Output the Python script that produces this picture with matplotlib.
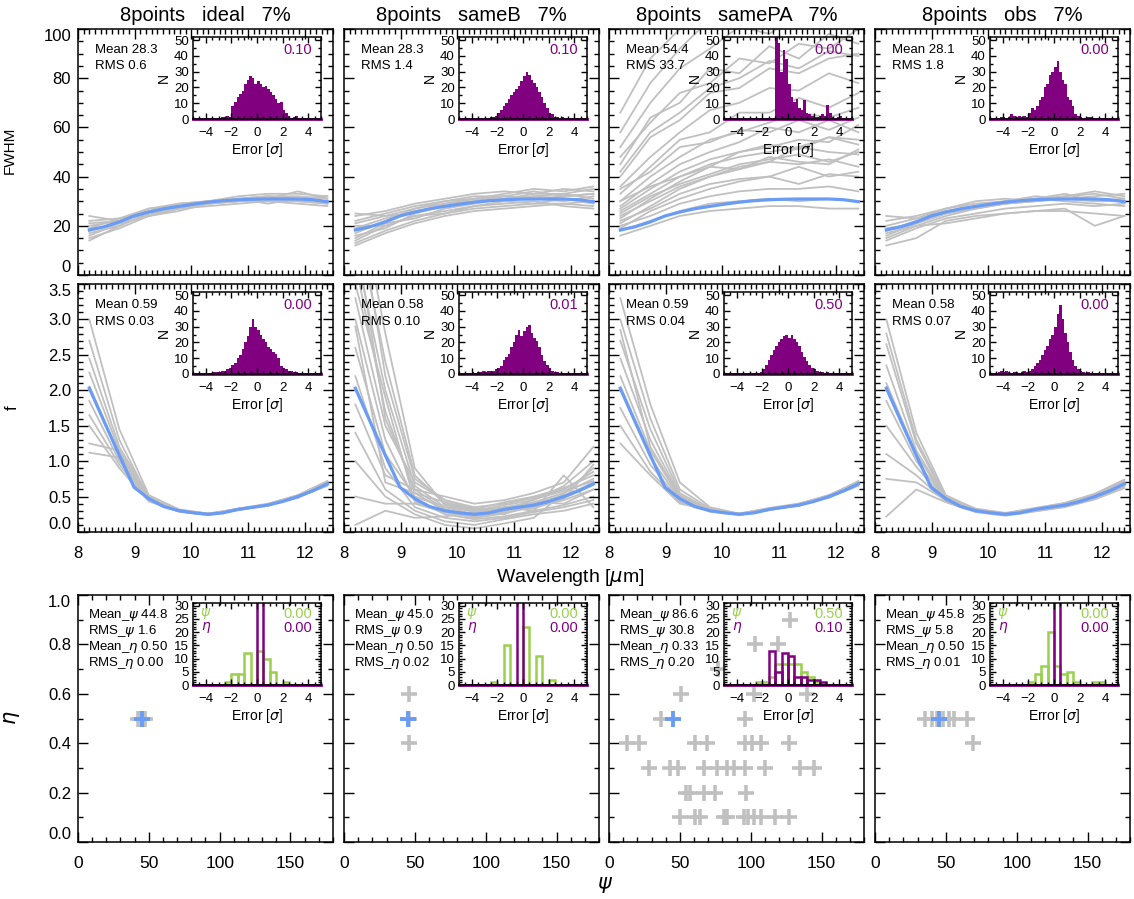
import numpy as np
import matplotlib.pyplot as plt
from matplotlib.ticker import MultipleLocator

plt.rcParams['font.family'] = ['Liberation Sans', 'DejaVu Sans']
plt.rcParams['mathtext.fontset'] = 'dejavusans'

GREY = '#c0c0c0'
BLUE = '#6a9cf5'
PURPLE = '#800080'
GREEN = '#9bd04f'

# ---------------- data ----------------
titles = ['8points   ideal   7%', '8points   sameB   7%',
          '8points   samePA   7%', '8points   obs   7%']

# model (blue) curves
wave_model = [8.20, 8.46, 8.73, 8.99, 9.25, 9.51, 9.78, 10.04, 10.30,
              10.56, 10.83, 11.09, 11.35, 11.61, 11.88, 12.14, 12.40]
fwhm_model = [18.3, 19.6, 21.6, 24.0, 25.6, 26.9, 27.9, 28.8, 29.6,
              30.2, 30.6, 30.8, 30.9, 30.9, 30.9, 30.6, 29.8]
f_model = [2.03, 1.56, 1.08, 0.63, 0.47, 0.36, 0.30, 0.27, 0.25,
           0.27, 0.32, 0.35, 0.38, 0.43, 0.50, 0.58, 0.68]

# simulated fits (grey)
wave_runs = [8.2, 8.73, 9.25, 9.78, 10.3, 10.83, 11.35, 11.88, 12.4]

fwhm_ideal = [
    [16, 21, 24, 27, 29, 30, 31, 31, 30],
    [20, 22, 26, 28, 30, 31, 32, 32, 31],
    [14, 20, 25, 27, 29, 30, 30, 30, 29],
    [22, 23, 27, 29, 30, 32, 33, 33, 32],
    [18, 21, 24, 27, 28, 29, 30, 29, 28],
    [24, 22, 27, 28, 30, 31, 31, 34, 31],
    [15, 19, 24, 26, 29, 30, 31, 30, 30],
    [19, 23, 26, 29, 30, 30, 32, 31, 32],
    [17, 20, 25, 27, 30, 31, 29, 31, 30],
    [21, 22, 25, 28, 29, 31, 32, 30, 29],
]
fwhm_sameB = [
    [13, 18, 22, 25, 27, 28, 29, 29, 30],
    [24, 26, 29, 31, 33, 34, 33, 35, 34],
    [17, 22, 27, 29, 31, 32, 31, 32, 33],
    [20, 20, 24, 26, 28, 29, 30, 28, 27],
    [15, 21, 23, 27, 29, 31, 32, 33, 31],
    [22, 25, 28, 30, 31, 33, 35, 34, 36],
    [12, 17, 21, 24, 26, 27, 28, 29, 28],
    [19, 23, 26, 28, 31, 30, 32, 31, 30],
    [16, 19, 25, 29, 30, 32, 31, 30, 32],
    [25, 24, 27, 30, 32, 32, 34, 32, 33],
    [14, 20, 24, 25, 28, 30, 29, 31, 29],
    [21, 24, 25, 28, 30, 31, 33, 33, 35],
]
fwhm_samePA = [
    [16, 20, 24, 26, 27, 28, 28, 27, 27],
    [18, 22, 26, 29, 30, 31, 30, 31, 30],
    [20, 24, 29, 32, 34, 35, 35, 36, 34],
    [22, 27, 33, 37, 39, 40, 44, 40, 42],
    [19, 26, 31, 35, 38, 40, 37, 41, 40],
    [24, 30, 36, 40, 43, 48, 46, 45, 51],
    [21, 28, 35, 40, 44, 46, 52, 50, 49],
    [26, 33, 40, 45, 48, 50, 52, 56, 53],
    [23, 31, 38, 44, 50, 52, 55, 54, 61],
    [28, 37, 45, 50, 54, 60, 58, 63, 58],
    [30, 40, 48, 55, 58, 62, 66, 64, 68],
    [33, 44, 55, 58, 66, 66, 72, 68, 74],
    [36, 48, 58, 67, 70, 76, 75, 82, 78],
    [40, 56, 63, 74, 76, 84, 82, 88, 90],
    [45, 64, 70, 84, 82, 93, 88, 98, 94],
    [52, 70, 84, 92, 101, 98, 106, 104, 110],
    [58, 78, 92, 104, 108, 114, 112, 118, 120],
    [66, 88, 100, 110, 118, 122, 125, 128, 130],
    [27, 35, 42, 47, 50, 53, 51, 56, 55],
    [25, 32, 37, 41, 45, 47, 49, 46, 50],
    [35, 42, 52, 54, 59, 58, 63, 59, 64],
    [42, 58, 66, 76, 80, 87, 84, 91, 89],
    [30, 36, 40, 44, 43, 46, 45, 47, 44],
    [48, 62, 74, 78, 88, 86, 94, 92, 100],
]
fwhm_obs = [
    [12, 15, 22, 24, 25, 26, 27, 20, 24],
    [16, 21, 25, 28, 29, 30, 31, 30, 30],
    [20, 23, 26, 28, 30, 31, 32, 33, 31],
    [22, 24, 27, 29, 30, 32, 31, 32, 33],
    [14, 19, 23, 25, 27, 28, 29, 28, 29],
    [18, 22, 26, 28, 30, 31, 33, 30, 31],
    [24, 23, 27, 30, 31, 30, 32, 34, 32],
    [15, 20, 24, 27, 29, 31, 30, 29, 28],
    [19, 21, 25, 27, 29, 30, 31, 31, 30],
    [17, 20, 21, 23, 25, 26, 26, 25, 24],
]

f_ideal = [
    [3.00, 1.45, 0.52, 0.32, 0.26, 0.33, 0.40, 0.52, 0.72],
    [2.70, 1.30, 0.48, 0.31, 0.25, 0.31, 0.38, 0.49, 0.66],
    [2.45, 1.20, 0.50, 0.29, 0.24, 0.32, 0.39, 0.51, 0.70],
    [2.25, 1.15, 0.45, 0.30, 0.25, 0.33, 0.37, 0.50, 0.65],
    [2.05, 1.10, 0.47, 0.31, 0.26, 0.32, 0.38, 0.48, 0.68],
    [1.85, 1.00, 0.46, 0.29, 0.24, 0.31, 0.39, 0.51, 0.69],
    [1.65, 0.95, 0.44, 0.30, 0.25, 0.32, 0.38, 0.50, 0.67],
    [1.25, 1.15, 0.46, 0.31, 0.25, 0.33, 0.38, 0.49, 0.70],
    [1.12, 1.05, 0.45, 0.30, 0.26, 0.31, 0.37, 0.50, 0.66],
    [1.50, 0.90, 0.43, 0.29, 0.25, 0.32, 0.39, 0.52, 0.71],
]
f_sameB = [
    [4.5, 2.4, 0.80, 0.40, 0.30, 0.35, 0.42, 0.55, 0.75],
    [4.0, 2.0, 0.65, 0.35, 0.25, 0.30, 0.40, 0.50, 0.70],
    [3.8, 1.7, 0.55, 0.30, 0.22, 0.28, 0.35, 0.45, 0.60],
    [3.3, 1.5, 0.70, 0.45, 0.35, 0.40, 0.48, 0.60, 0.85],
    [3.0, 1.3, 0.45, 0.25, 0.18, 0.22, 0.30, 0.38, 0.50],
    [2.6, 1.1, 0.50, 0.35, 0.30, 0.38, 0.45, 0.65, 1.00],
    [2.2, 0.9, 0.35, 0.20, 0.15, 0.20, 0.28, 0.35, 0.45],
    [1.8, 0.8, 0.60, 0.50, 0.40, 0.45, 0.55, 0.70, 1.20],
    [1.4, 0.6, 0.30, 0.15, 0.10, 0.18, 0.25, 0.30, 0.40],
    [1.0, 0.5, 0.25, 0.10, 0.05, 0.12, 0.20, 0.55, 0.90],
    [0.5, 0.4, 0.40, 0.28, 0.22, 0.35, 0.30, 0.80, 0.35],
    [0.1, 0.3, 0.20, 0.22, 0.28, 0.25, 0.42, 0.40, 0.60],
    [5.0, 2.8, 0.90, 0.38, 0.28, 0.33, 0.40, 0.52, 0.68],
    [3.5, 1.9, 0.42, 0.28, 0.20, 0.26, 0.36, 0.46, 0.95],
    [2.9, 0.7, 0.55, 0.42, 0.32, 0.42, 0.50, 0.62, 0.80],
    [4.8, 2.2, 0.75, 0.45, 0.33, 0.30, 0.46, 0.58, 0.72],
    [4.2, 1.6, 0.60, 0.32, 0.24, 0.34, 0.33, 0.48, 0.66],
]
f_samePA = [
    [3.30, 1.80, 0.70, 0.35, 0.26, 0.33, 0.40, 0.52, 0.70],
    [3.00, 1.60, 0.60, 0.33, 0.25, 0.32, 0.39, 0.50, 0.68],
    [2.70, 1.45, 0.55, 0.31, 0.24, 0.31, 0.38, 0.51, 0.72],
    [2.45, 1.30, 0.52, 0.30, 0.25, 0.33, 0.37, 0.49, 0.66],
    [2.20, 1.15, 0.48, 0.29, 0.25, 0.32, 0.39, 0.50, 0.69],
    [2.00, 1.05, 0.46, 0.30, 0.24, 0.31, 0.38, 0.48, 0.67],
    [1.75, 0.95, 0.44, 0.29, 0.25, 0.32, 0.37, 0.51, 0.70],
    [1.50, 0.85, 0.42, 0.30, 0.26, 0.33, 0.39, 0.52, 0.71],
    [1.25, 0.80, 0.40, 0.31, 0.25, 0.31, 0.38, 0.49, 0.65],
    [2.85, 1.20, 0.50, 0.32, 0.26, 0.34, 0.40, 0.51, 0.70],
]
f_obs = [
    [3.00, 1.40, 0.52, 0.32, 0.26, 0.33, 0.41, 0.53, 0.72],
    [2.65, 1.25, 0.48, 0.31, 0.25, 0.31, 0.38, 0.50, 0.68],
    [2.35, 1.15, 0.47, 0.30, 0.24, 0.32, 0.37, 0.49, 0.66],
    [2.10, 1.10, 0.45, 0.29, 0.25, 0.30, 0.36, 0.48, 0.65],
    [1.85, 1.00, 0.46, 0.30, 0.26, 0.33, 0.39, 0.52, 0.70],
    [1.50, 0.92, 0.44, 0.31, 0.24, 0.31, 0.38, 0.51, 0.71],
    [1.10, 0.80, 0.43, 0.29, 0.25, 0.32, 0.40, 0.50, 0.69],
    [0.75, 0.70, 0.45, 0.30, 0.24, 0.30, 0.36, 0.47, 0.64],
    [0.22, 0.60, 0.42, 0.28, 0.23, 0.29, 0.35, 0.46, 0.62],
    [2.80, 1.30, 0.50, 0.33, 0.27, 0.34, 0.41, 0.54, 0.74],
]

# stats text
fwhm_mean = ['28.3', '28.3', '54.4', '28.1']
fwhm_rms = ['0.6', '1.4', '33.7', '1.8']
fwhm_frac = ['0.10', '0.10', '0.00', '0.00']
f_mean = ['0.59', '0.58', '0.59', '0.58']
f_rms = ['0.03', '0.10', '0.04', '0.07']
f_frac = ['0.00', '0.01', '0.50', '0.00']
psi_mean = ['44.8', '45.0', '86.6', '45.8']
psi_rms = ['1.6', '0.9', '30.8', '5.8']
eta_mean = ['0.50', '0.50', '0.33', '0.50']
eta_rms = ['0.00', '0.02', '0.20', '0.01']
psi_frac = ['0.00', '0.00', '0.50', '0.00']
eta_frac = ['0.00', '0.00', '0.10', '0.00']

# error histograms: 50 bins of 0.2 sigma from -5 to 5
hist_fwhm = [
    [0]*10 + [0, 1, 1, 2, 1, 8, 11, 14, 16, 18, 22, 25, 27, 26, 22, 24, 22, 20, 21,
              19, 17, 15, 13, 10, 11, 6, 4, 2, 0, 1, 2] + [0]*9,
    [0]*12 + [1, 1, 2, 4, 6, 8, 10, 13, 15, 17, 19, 21, 24, 27, 30, 28, 25, 23, 20,
              17, 14, 10, 7, 4, 3, 1, 1, 0, 1] + [0]*9,
    [0]*20 + [52, 48, 30, 44, 38, 22, 14, 11, 13, 7, 6, 12, 4, 3, 2, 1, 1, 2, 3, 2,
              9, 4, 1, 0, 1, 2] + [0]*4,
    [0]*4 + [1, 1, 0, 1, 3, 2, 1, 2, 1, 2, 1, 4, 7, 6, 8, 12, 14, 20, 22, 28, 30,
             33, 37, 30, 25, 22, 14, 12, 8, 3, 2, 1, 0, 0, 1, 1] + [0]*10,
]
hist_f = [
    [0]*8 + [1, 1, 1, 2, 2, 3, 4, 6, 7, 10, 12, 16, 20, 24, 30, 35, 30, 28, 25, 22,
             20, 17, 16, 14, 13, 10, 5, 4, 3, 2, 2, 1, 1] + [0]*9,
    [0]*5 + [1, 0, 1, 1, 2, 1, 2, 2, 2, 3, 4, 5, 9, 11, 13, 17, 20, 25, 28, 24, 27,
             30, 31, 26, 23, 21, 17, 12, 8, 6, 4, 2, 1, 1] + [0]*11,
    [0]*14 + [1, 3, 6, 9, 12, 15, 18, 20, 22, 24, 25, 23, 25, 22, 20, 18, 14, 11, 8,
              6, 4, 3, 2, 1, 1, 0, 1] + [0]*9,
    [0]*3 + [1, 2, 1, 2, 1, 0, 1, 1, 0, 1, 2, 1, 2, 3, 5, 7, 9, 12, 15, 18, 22, 25,
             30, 38, 44, 35, 26, 20, 14, 9, 5, 3, 2, 1, 0, 1] + [0]*11,
]

# psi / eta histograms: 20 bins of 0.5 sigma from -5 to 5
hist_psi = [
    [0]*5 + [1, 4, 4, 12, 0, 13, 10, 5, 0, 1] + [0]*5,
    [0]*5 + [1, 0, 15, 0, 0, 22, 0, 11, 0, 2] + [0]*5,
    [0]*5 + [1, 1, 3, 8, 8, 8, 8, 5, 3, 1] + [0]*5,
    [0]*6 + [1, 4, 7, 20, 7, 4, 5, 1, 0, 0, 1, 1] + [0]*2,
]
hist_eta = [
    [0]*10 + [50] + [0]*9,
    [0]*9 + [50] + [0]*10,
    [0]*7 + [13, 5, 12, 11, 3, 3, 2, 2, 1] + [0]*4,
    [0]*10 + [50] + [0]*9,
]

# psi / eta of the individual fits (grey crosses)
psi_pts = [
    [42, 44, 45, 46, 47],
    [45.6, 45.6, 45.6],
    [51, 37, 96, 102, 103, 119, 128, 77, 140,
     13, 21, 61, 69, 96, 101, 107, 127,
     28, 43, 49, 67, 76, 83, 88, 96, 110, 135, 145,
     54, 57, 67, 75, 97,
     50, 61, 64, 81, 83, 95, 98, 102, 107, 117, 127],
    [35, 40, 44, 48, 52, 56, 65, 69],
]
eta_pts = [
    [0.5, 0.5, 0.5, 0.5, 0.5],
    [0.6, 0.5, 0.4],
    [0.6, 0.5, 0.5, 0.6, 0.8, 0.8, 0.9, 0.7, 0.6,
     0.4, 0.4, 0.4, 0.4, 0.4, 0.4, 0.4, 0.4,
     0.3, 0.3, 0.3, 0.3, 0.3, 0.3, 0.3, 0.3, 0.3, 0.3, 0.3,
     0.2, 0.2, 0.2, 0.2, 0.2,
     0.1, 0.1, 0.1, 0.1, 0.1, 0.1, 0.1, 0.1, 0.1, 0.1, 0.1],
    [0.5, 0.5, 0.5, 0.5, 0.5, 0.5, 0.5, 0.4],
]
psi_true = 45
eta_true = 0.5

runs_fwhm = [fwhm_ideal, fwhm_sameB, fwhm_samePA, fwhm_obs]
runs_f = [f_ideal, f_sameB, f_samePA, f_obs]

# ---------------- layout ----------------
W, H = 1134, 899
fig = plt.figure(figsize=(W / 100, H / 100), dpi=100)

col_left = [78, 344, 609, 875]
col_w = 255
row_top = [29, 284, 595]
row_h = [246, 248, 247]


def rect(left, top, w, h):
    return [left / W, 1 - (top + h) / H, w / W, h / H]


def style(ax, fs=12, major=7, minor=3.5, pad=5):
    ax.tick_params(which='both', direction='in', top=True, right=True,
                   labelsize=fs, width=1, colors='black')
    ax.tick_params(which='major', length=major)
    ax.tick_params(which='minor', length=minor)
    ax.tick_params(axis='y', pad=pad)
    for s in ax.spines.values():
        s.set_linewidth(1.1)


def tuck_edge_labels(ax):
    # IDL keeps the end labels inside the frame
    labs = ax.get_yticklabels()
    if labs:
        labs[0].set_va('bottom')
        labs[-1].set_va('top')


def make_inset(col, row, ymax, ystep, yminor):
    ax = fig.add_axes(rect(col_left[col] + 115, row_top[row] + 8, 128, 82))
    ax.set_facecolor('none')
    ax.set_xlim(-5, 5)
    ax.set_ylim(0, ymax)
    ax.xaxis.set_major_locator(MultipleLocator(2))
    ax.xaxis.set_minor_locator(MultipleLocator(0.5))
    ax.yaxis.set_major_locator(MultipleLocator(ystep))
    ax.yaxis.set_minor_locator(MultipleLocator(yminor))
    style(ax, fs=9.5, major=4, minor=2, pad=3)
    ax.tick_params(axis='x', pad=6)
    ax.set_xticks([-4, -2, 0, 2, 4])
    ax.set_xticklabels(['\u22124', '\u22122', '0', '2', '4'])
    ax.set_xlabel('Error [$\\sigma$]', fontsize=10, labelpad=1)
    return ax


edges_fine = np.arange(-5, 5.001, 0.2)
edges_coarse = np.arange(-5, 5.001, 0.5)

for c in range(4):
    # title
    fig.text((col_left[c] + col_w / 2) / W, 1 - 21 / H, titles[c],
             ha='center', va='baseline', fontsize=14.5)

    # ---- row 1: FWHM ----
    ax = fig.add_axes(rect(col_left[c], row_top[0], col_w, row_h[0]))
    for run in runs_fwhm[c]:
        ax.plot(wave_runs, run, color=GREY, lw=1.3, zorder=1)
    ax.plot(wave_model, fwhm_model, color=BLUE, lw=2.3, zorder=3)
    ax.set_xlim(8, 12.5)
    ax.set_ylim(0, 100)
    ax.xaxis.set_major_locator(MultipleLocator(1))
    ax.xaxis.set_minor_locator(MultipleLocator(0.1))
    ax.set_yticks([0, 20, 40, 60, 80, 100])
    ax.yaxis.set_minor_locator(MultipleLocator(5))
    style(ax)
    ax.set_xticklabels([])
    if c > 0:
        ax.set_yticklabels([])
    else:
        tuck_edge_labels(ax)
    ax.text(17 / col_w, 1 - 21 / row_h[0], 'Mean ' + fwhm_mean[c],
            transform=ax.transAxes, fontsize=9.5, va='center', zorder=5)
    ax.text(17 / col_w, 1 - 37 / row_h[0], 'RMS ' + fwhm_rms[c],
            transform=ax.transAxes, fontsize=9.5, va='center', zorder=5)

    ia = make_inset(c, 0, 52, 10, 5)
    ia.stairs(hist_fwhm[c], edges_fine, fill=True, color=PURPLE)
    ia.plot([-5, 5], [0, 0], color=PURPLE, lw=2, clip_on=False)
    ia.set_ylabel('N', fontsize=10, labelpad=2)
    ia.text(0.93, 0.84, fwhm_frac[c], transform=ia.transAxes, color=PURPLE,
            fontsize=10.5, ha='right', va='center')

    # ---- row 2: f ----
    ax = fig.add_axes(rect(col_left[c], row_top[1], col_w, row_h[1]))
    for run in runs_f[c]:
        ax.plot(wave_runs, run, color=GREY, lw=1.3, zorder=1)
    ax.plot(wave_model, f_model, color=BLUE, lw=2.3, zorder=3)
    ax.set_xlim(8, 12.5)
    ax.set_ylim(0, 3.5)
    ax.xaxis.set_major_locator(MultipleLocator(1))
    ax.xaxis.set_minor_locator(MultipleLocator(0.1))
    ax.set_yticks([0, 0.5, 1.0, 1.5, 2.0, 2.5, 3.0, 3.5])
    ax.yaxis.set_minor_locator(MultipleLocator(0.1))
    style(ax)
    ax.tick_params(axis='x', pad=10)
    if c > 0:
        ax.set_yticklabels([])
    else:
        ax.set_yticklabels(['0.0', '0.5', '1.0', '1.5', '2.0', '2.5', '3.0',
                            '3.5'])
        tuck_edge_labels(ax)
    ax.text(17 / col_w, 1 - 21 / row_h[1], 'Mean ' + f_mean[c],
            transform=ax.transAxes, fontsize=9.5, va='center', zorder=5)
    ax.text(17 / col_w, 1 - 38 / row_h[1], 'RMS ' + f_rms[c],
            transform=ax.transAxes, fontsize=9.5, va='center', zorder=5)

    ia = make_inset(c, 1, 52, 10, 5)
    ia.stairs(hist_f[c], edges_fine, fill=True, color=PURPLE)
    ia.plot([-5, 5], [0, 0], color=PURPLE, lw=2, clip_on=False)
    ia.set_ylabel('N', fontsize=10, labelpad=2)
    ia.text(0.93, 0.84, f_frac[c], transform=ia.transAxes, color=PURPLE,
            fontsize=10.5, ha='right', va='center')

    # ---- row 3: psi / eta ----
    ax = fig.add_axes(rect(col_left[c], row_top[2], col_w, row_h[2]))
    ax.plot(psi_pts[c], eta_pts[c], ls='none', marker='+', ms=11, mew=2.6,
            color=GREY, zorder=2)
    ax.plot([psi_true], [eta_true], ls='none', marker='+', ms=11, mew=2.8,
            color=BLUE, zorder=3)
    ax.set_xlim(0, 180)
    ax.set_ylim(0, 1)
    ax.set_xticks([0, 50, 100, 150])
    ax.xaxis.set_minor_locator(MultipleLocator(10))
    ax.set_yticks([0, 0.2, 0.4, 0.6, 0.8, 1.0])
    ax.yaxis.set_minor_locator(MultipleLocator(0.1))
    style(ax)
    ax.tick_params(axis='x', pad=10, labelsize=12.5)
    if c > 0:
        ax.set_yticklabels([])
    else:
        ax.set_yticklabels(['0.0', '0.2', '0.4', '0.6', '0.8', '1.0'])
        tuck_edge_labels(ax)
    lines = ['Mean_$\\psi$ ' + psi_mean[c], 'RMS_$\\psi$ ' + psi_rms[c],
             'Mean_$\\eta$ ' + eta_mean[c], 'RMS_$\\eta$ ' + eta_rms[c]]
    for k, s in enumerate(lines):
        ax.text(10 / col_w, 1 - (20 + 16 * k) / row_h[2], s,
                transform=ax.transAxes, fontsize=9.5, va='center', zorder=5)

    ia = make_inset(c, 2, 31, 5, 1)
    ia.bar(edges_coarse[:-1], hist_psi[c], width=0.5, align='edge',
           fill=False, edgecolor=GREEN, lw=1.8)
    ia.bar(edges_coarse[:-1], hist_eta[c], width=0.5, align='edge',
           fill=False, edgecolor=PURPLE, lw=1.8)
    ia.plot([-5, 5], [0, 0], color=PURPLE, lw=2, clip_on=False)
    ia.text(0.1, 0.87, '$\\psi$', transform=ia.transAxes, color=GREEN,
            fontsize=10, ha='center', va='center')
    ia.text(0.1, 0.70, '$\\eta$', transform=ia.transAxes, color=PURPLE,
            fontsize=10, ha='center', va='center')
    ia.text(0.93, 0.87, psi_frac[c], transform=ia.transAxes, color=GREEN,
            fontsize=10.5, ha='right', va='center')
    ia.text(0.93, 0.70, eta_frac[c], transform=ia.transAxes, color=PURPLE,
            fontsize=10.5, ha='right', va='center')

# axis titles
fig.text(10 / W, 1 - 150 / H, 'FWHM', rotation=90, ha='center', va='center',
         fontsize=11)
fig.text(12 / W, 1 - 408 / H, 'f', rotation=90, ha='center', va='center',
         fontsize=12)
fig.text(12 / W, 1 - 718 / H, '$\\eta$', rotation=90, ha='center',
         va='center', fontsize=15)
fig.text(570 / W, 1 - 577 / H, 'Wavelength [$\\mu$m]', ha='center',
         va='center', fontsize=14)
fig.text(605 / W, 1 - 885 / H, '$\\psi$', ha='center', va='center',
         fontsize=15)

fig.savefig('out.png', dpi=100)
